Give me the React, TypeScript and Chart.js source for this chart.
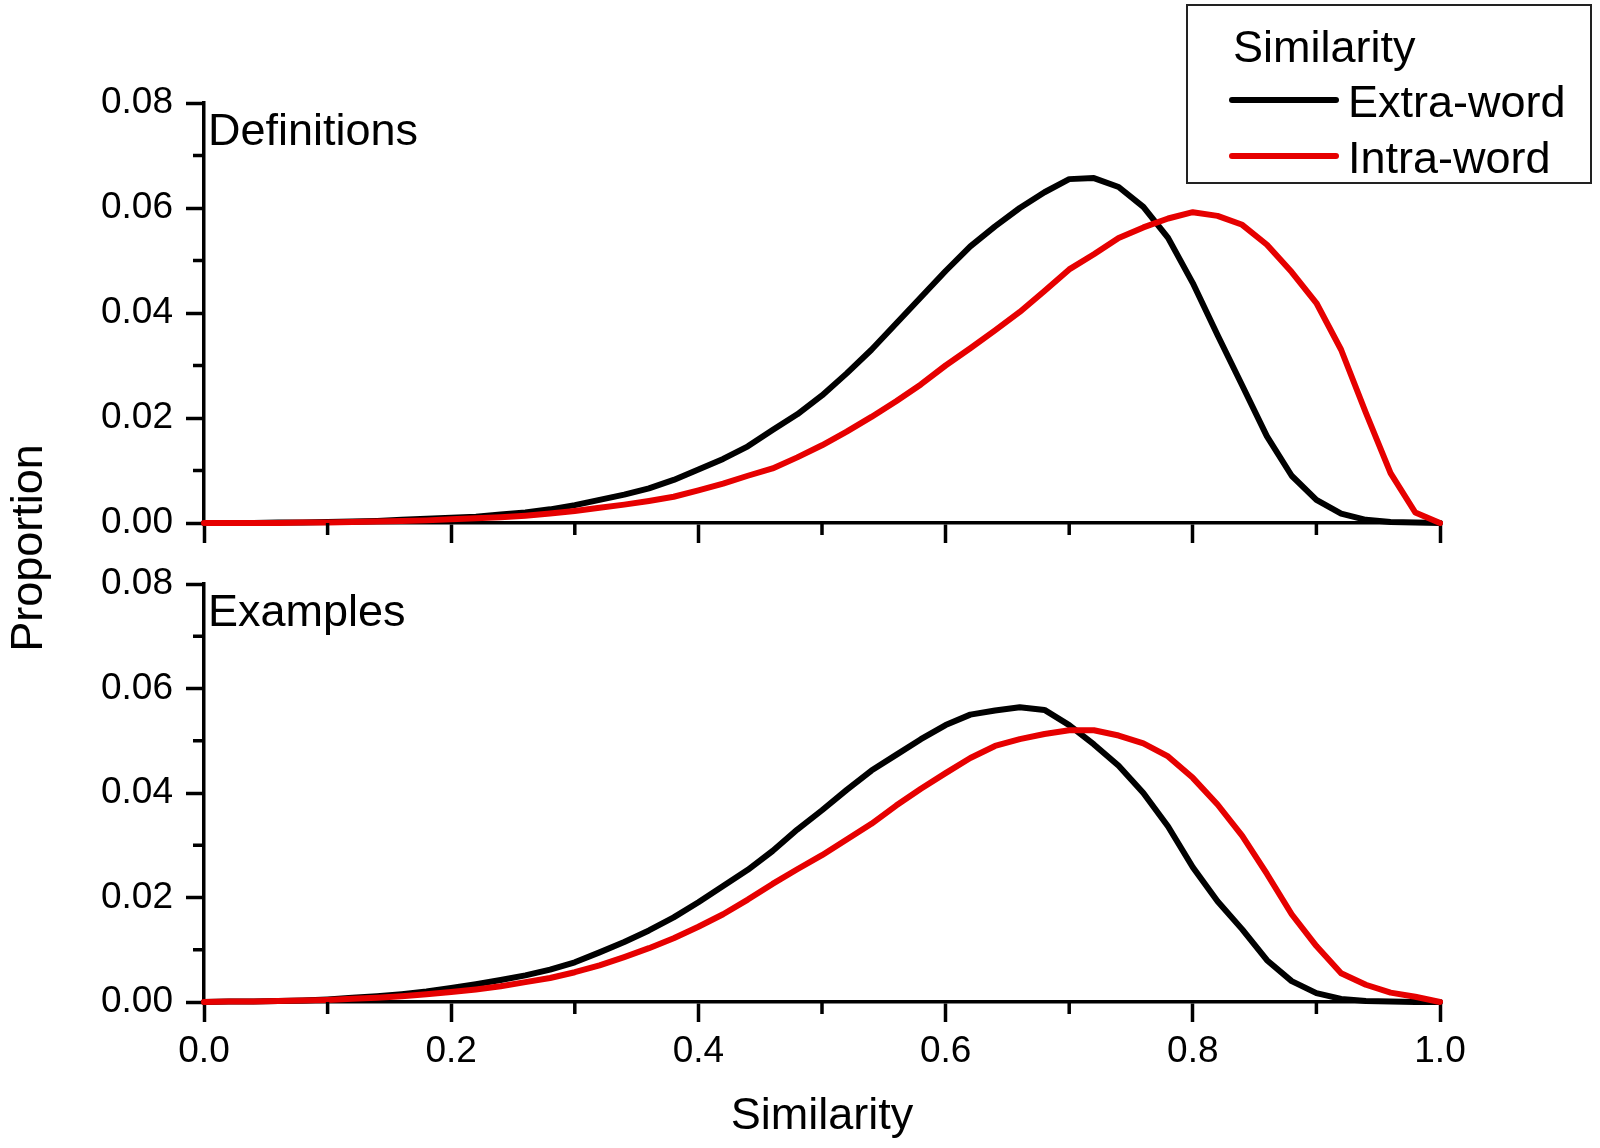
import { useEffect, useRef } from 'react';
import { Chart, registerables } from 'chart.js';

Chart.register(...registerables);

// x positions of the sampled bins (similarity)
const similarity = [
  0, 0.02, 0.04, 0.06, 0.08, 0.1, 0.12, 0.14, 0.16, 0.18,
  0.2, 0.22, 0.24, 0.26, 0.28, 0.3, 0.32, 0.34, 0.36, 0.38,
  0.4, 0.42, 0.44, 0.46, 0.48, 0.5, 0.52, 0.54, 0.56, 0.58,
  0.6, 0.62, 0.64, 0.66, 0.68, 0.7, 0.72, 0.74, 0.76, 0.78,
  0.8, 0.82, 0.84, 0.86, 0.88, 0.9, 0.92, 0.94, 0.96, 0.98,
  1.0,
];

// Definitions panel
const defExtra = [
  0, 0, 0, 0.0001, 0.0001, 0.0002, 0.0003, 0.0004, 0.0006, 0.0008,
  0.001, 0.0012, 0.0016, 0.002, 0.0026, 0.0034, 0.0044, 0.0054, 0.0066, 0.0082,
  0.0102, 0.0122, 0.0146, 0.0177, 0.0207, 0.0243, 0.0285, 0.033, 0.038, 0.043,
  0.048, 0.0527, 0.0565, 0.06, 0.063, 0.0655, 0.0657, 0.064, 0.0602, 0.0543,
  0.0457, 0.0358, 0.0262, 0.0165, 0.009, 0.0044, 0.0018, 0.0006, 0.0002, 0.0001,
  0,
];
const defIntra = [
  0, 0, 0, 0, 0.0001, 0.0001, 0.0002, 0.0003, 0.0004, 0.0005,
  0.0007, 0.0009, 0.0011, 0.0014, 0.0018, 0.0023, 0.0029, 0.0035, 0.0042, 0.005,
  0.0062, 0.0075, 0.009, 0.0104, 0.0125, 0.0148, 0.0174, 0.0202, 0.0232, 0.0264,
  0.03, 0.0333, 0.0367, 0.0402, 0.0442, 0.0483, 0.0512, 0.0543, 0.0563, 0.058,
  0.0592, 0.0585, 0.0568, 0.053, 0.0478, 0.0419, 0.033, 0.021, 0.0095, 0.002,
  0,
];

// Examples panel
const exExtra = [
  0, 0.0001, 0.0001, 0.0002, 0.0003, 0.0005, 0.0008, 0.0011, 0.0015, 0.002,
  0.0027, 0.0034, 0.0042, 0.0051, 0.0062, 0.0076, 0.0095, 0.0115, 0.0137, 0.0162,
  0.0191, 0.0222, 0.0253, 0.0289, 0.033, 0.0367, 0.0406, 0.0443, 0.0473, 0.0503,
  0.053, 0.055, 0.0558, 0.0564, 0.0559, 0.053, 0.0493, 0.0452, 0.04, 0.0336,
  0.0258, 0.0193, 0.0139, 0.008, 0.004, 0.0017, 0.0006, 0.0002, 0.0001, 0,
  0,
];
const exIntra = [
  0, 0.0001, 0.0001, 0.0002, 0.0003, 0.0004, 0.0006, 0.0008, 0.0011, 0.0015,
  0.0019, 0.0024, 0.003, 0.0038, 0.0046, 0.0057, 0.007, 0.0086, 0.0103, 0.0122,
  0.0144, 0.0168, 0.0196, 0.0226, 0.0254, 0.0281, 0.0311, 0.0341, 0.0376, 0.0408,
  0.0438, 0.0467, 0.049, 0.0503, 0.0513, 0.052, 0.052, 0.051, 0.0495, 0.047,
  0.0429, 0.0378, 0.0318, 0.0245, 0.0168, 0.0107, 0.0055, 0.0033, 0.0018, 0.001,
  0,
];

const yMajorTicks = [0, 0.02, 0.04, 0.06, 0.08];
const yMinorTicks = [0.01, 0.03, 0.05, 0.07];
const xMajorTicks = [0, 0.2, 0.4, 0.6, 0.8, 1.0];
const xMinorTicks = [0.1, 0.3, 0.5, 0.7, 0.9];

const seriesNames = ['Extra-word', 'Intra-word'];
const seriesColors = ['#000000', '#e60000'];
const panelNames = ['Definitions', 'Examples'];
const legendTitle = 'Similarity';
const xTitle = 'Similarity';
const yTitle = 'Proportion';

const FONT = '"Liberation Sans", Arial, Helvetica, sans-serif';
const W = 1600;
const H = 1148;
const AREA_LEFT = 204;
const AREA_RIGHT = 1440;
const panelBoxes = [
  { top: 103, bottom: 523 },
  { top: 584, bottom: 1002 },
];
const X_AXIS_H = 100;
const AXIS_W = 3.5;

const decorations = {
  id: 'decorations',
  afterDraw(chart: any, _args: any, opts: any) {
    const { ctx, chartArea, scales } = chart;
    const xs = scales.x;
    const ys = scales.y;
    ctx.save();

    // minor ticks
    ctx.strokeStyle = '#000';
    ctx.lineWidth = AXIS_W;
    ctx.beginPath();
    yMinorTicks.forEach((v) => {
      const py = ys.getPixelForValue(v);
      ctx.moveTo(chartArea.left, py);
      ctx.lineTo(chartArea.left - 11, py);
    });
    xMinorTicks.forEach((v) => {
      const px = xs.getPixelForValue(v);
      ctx.moveTo(px, chartArea.bottom);
      ctx.lineTo(px, chartArea.bottom + 12);
    });
    ctx.stroke();

    ctx.fillStyle = '#000';
    ctx.font = `45px ${FONT}`;
    ctx.textAlign = 'left';
    ctx.textBaseline = 'alphabetic';
    ctx.fillText(opts.panel, chartArea.left + 4, chartArea.top + 42);

    if (opts.legend) {
      ctx.lineWidth = 2;
      ctx.strokeStyle = '#222';
      ctx.strokeRect(1187, 5, 404, 178);
      ctx.fillText(legendTitle, 1233, 62);
      const ds = chart.data.datasets;
      const rows = [100, 156];
      ds.forEach((d: any, i: number) => {
        ctx.strokeStyle = d.borderColor;
        ctx.lineWidth = 6;
        ctx.lineCap = 'round';
        ctx.beginPath();
        ctx.moveTo(1232, rows[i]);
        ctx.lineTo(1336, rows[i]);
        ctx.stroke();
        ctx.fillText(d.label, 1348, rows[i] + 17);
      });
    }

    if (opts.axisTitles) {
      ctx.textAlign = 'center';
      ctx.fillText(xTitle, (chartArea.left + chartArea.right) / 2, 1129);
      ctx.translate(42, 548);
      ctx.rotate(-Math.PI / 2);
      ctx.fillText(yTitle, 0, 0);
    }
    ctx.restore();
  },
};

function makePanel(canvas: HTMLCanvasElement, idx: number) {
  const box = panelBoxes[idx];
  const series = idx === 0 ? [defExtra, defIntra] : [exExtra, exIntra];
  const isBottom = idx === 1;

  return new Chart(canvas, {
    type: 'line',
    data: {
      datasets: series.map((vals, i) => ({
        label: seriesNames[i],
        data: similarity.map((x, j) => ({ x, y: vals[j] })),
        borderColor: seriesColors[i],
        borderWidth: 6,
        pointRadius: 0,
        tension: 0,
        borderJoinStyle: 'round' as const,
        borderCapStyle: 'round' as const,
        clip: false as any,
        order: i === 0 ? 1 : 0,
      })),
    },
    options: {
      animation: false,
      responsive: false,
      devicePixelRatio: 1,
      events: [],
      layout: {
        padding: {
          left: 0,
          right: W - AREA_RIGHT,
          top: box.top,
          bottom: H - box.bottom - X_AXIS_H,
        },
      },
      plugins: {
        legend: { display: false },
        tooltip: { enabled: false },
        decorations: {
          panel: panelNames[idx],
          legend: idx === 0,
          axisTitles: isBottom,
        },
      } as any,
      scales: {
        x: {
          type: 'linear',
          min: 0,
          max: 1,
          afterBuildTicks: (s: any) => {
            s.ticks = xMajorTicks.map((value) => ({ value }));
          },
          afterFit: (s: any) => {
            s.height = X_AXIS_H;
          },
          ticks: {
            display: isBottom,
            color: '#000',
            font: { family: FONT, size: 37 },
            padding: 8,
            maxRotation: 0,
            callback: (v: any) => Number(v).toFixed(1),
          },
          grid: {
            display: true,
            drawOnChartArea: false,
            drawTicks: true,
            tickLength: 20,
            tickWidth: AXIS_W,
            tickColor: '#000',
          },
          border: { display: true, color: '#000', width: AXIS_W },
        },
        y: {
          type: 'linear',
          min: 0,
          max: 0.08,
          afterBuildTicks: (s: any) => {
            s.ticks = yMajorTicks.map((value) => ({ value }));
          },
          afterFit: (s: any) => {
            s.width = AREA_LEFT;
          },
          ticks: {
            color: '#000',
            font: { family: FONT, size: 37 },
            padding: 13,
            callback: (v: any) => Number(v).toFixed(2),
          },
          grid: {
            display: true,
            drawOnChartArea: false,
            drawTicks: true,
            tickLength: 18,
            tickWidth: AXIS_W,
            tickColor: '#000',
          },
          border: { display: true, color: '#000', width: AXIS_W },
        },
      },
    },
    plugins: [decorations],
  } as any);
}

export default function App() {
  const topRef = useRef<HTMLCanvasElement>(null);
  const bottomRef = useRef<HTMLCanvasElement>(null);

  useEffect(() => {
    document.body.style.margin = '0';
    if (!topRef.current || !bottomRef.current) return;
    const charts = [makePanel(topRef.current, 0), makePanel(bottomRef.current, 1)];
    return () => {
      charts.forEach((c) => c.destroy());
    };
  }, []);

  return (
    <div style={{ position: 'relative', width: W, height: H, background: '#fff' }}>
      <canvas ref={bottomRef} width={W} height={H} style={{ position: 'absolute', left: 0, top: 0 }} />
      <canvas ref={topRef} width={W} height={H} style={{ position: 'absolute', left: 0, top: 0 }} />
    </div>
  );
}
